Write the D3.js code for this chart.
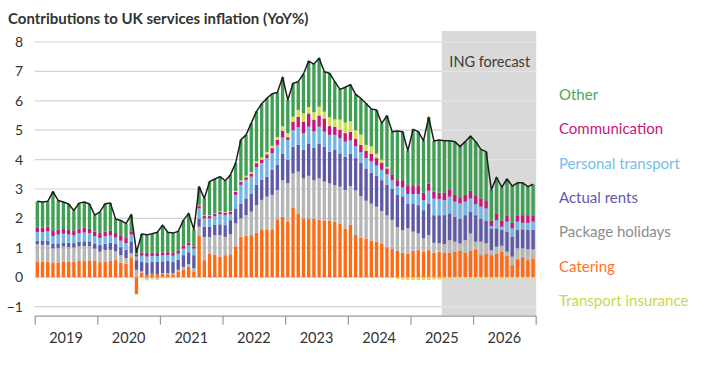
<!DOCTYPE html>
<html>
<head>
<meta charset="utf-8">
<script src="https://cdn.jsdelivr.net/npm/d3@7"></script>
<style>
  body { margin: 0; background: #fff; }
  svg text { font-family: Lato, "Open Sans", sans-serif; }
</style>
</head>
<body>
<svg id="chart" width="707" height="365"></svg>
<script>
// Monthly contributions (pp), Jan 2019 - Dec 2026, one row per year
const years = [2019, 2020, 2021, 2022, 2023, 2024, 2025, 2026];
const forecastStart = "2025-7";

const catering = [
  .52, .52, .52, .50, .50, .52, .52, .53, .55, .56, .57, .55,
  .51, .52, .55, .58, .50, .45, .65, -.57, .16, .08, .12, .10,
  .12, .10, .10, .20, .25, .35, .20, 1.40, .58, .80, .77, .69,
  .75, .78, 1.05, 1.38, 1.41, 1.43, 1.51, 1.63, 1.63, 1.63, 1.97, 2.06,
  1.90, 2.36, 2.17, 2.00, 2.00, 1.98, 1.95, 1.92, 1.92, 1.89, 1.83, 1.66,
  1.78, 1.44, 1.34, 1.32, 1.24, 1.21, 1.15, 1.02, .96, .90, .83, .81,
  .90, .92, .87, .92, .83, .87, .83, .83, .87, .90, .83, .90,
  .95, .75, .79, .75, .79, .87, .72, .41, .61, .68, .58, .64
];
const packageHolidays = [
  .60, .58, .58, .48, .50, .52, .50, .48, .50, .50, .48, .42,
  .36, .40, .38, .30, .25, .20, .17, .25, .04, -.08, -.05, -.06,
  .02, .03, .03, .05, .10, .10, .10, .32, .79, .57, .66, .74,
  .62, .68, .78, .62, .70, .80, .94, 1.00, 1.11, 1.17, 1.00, 1.24,
  1.30, 1.17, 1.42, 1.36, 1.45, 1.32, 1.41, 1.33, 1.27, 1.24, 1.25, 1.31,
  1.32, 1.51, 1.41, 1.28, 1.26, 1.19, 1.10, 1.08, .99, .80, .77, .85,
  .65, .57, .45, .51, .34, .28, .30, .43, .34, .25, .43, .59,
  .26, .46, .36, .17, .25, .20, .15, .29, .37, .30, .37, .31
];
const actualRents = [
  .12, .13, .14, .15, .15, .14, .15, .15, .16, .16, .17, .18,
  .23, .22, .24, .25, .27, .28, .40, .33, .33, .42, .40, .42,
  .40, .42, .40, .35, .40, .40, .45, .28, .35, .35, .36, .37,
  .40, .48, .51, .51, .57, .62, .69, .68, .68, .85, .85, .90,
  .79, .91, .91, .97, 1.10, 1.10, 1.19, 1.19, 1.08, 1.20, 1.13, 1.13,
  1.10, 1.10, 1.15, 1.10, 1.05, 1.05, 1.05, 1.05, 1.05, 1.10, 1.15, .83,
  .94, .96, .96, 1.08, .94, .96, .98, .91, .85, .85, .85, .74,
  .90, .79, .77, .74, .62, .54, .68, .68, .63, .65, .66, .66
];
const personalTransport = [
  .30, .30, .32, .27, .30, .30, .28, .26, .28, .30, .28, .25,
  .23, .25, .25, .22, .22, .23, .23, .12, .20, .20, .20, .20,
  .20, .20, .20, .20, .22, .23, .22, .34, .28, .28, .28, .34,
  .34, .20, .46, .63, .63, .57, .60, .57, .63, .57, .68, .55,
  .68, .56, .60, .56, .57, .56, .57, .51, .57, .51, .52, .51,
  .45, .40, .35, .35, .40, .35, .35, .35, .30, .30, .30, .34,
  .34, .38, .34, .43, .56, .54, .51, .57, .51, .51, .46, .45,
  .38, .40, .42, .08, .28, .11, .34, .28, .28, .22, .24, .28
];
const communication = [
  .16, .16, .16, .17, .17, .16, .16, .15, .16, .16, .15, .15,
  .17, .16, .16, .15, .16, .17, .11, .06, .11, .12, .12, .10,
  .10, .10, .09, .10, .10, .10, .07, .08, .08, .08, .08, .08,
  .08, .08, .10, .11, .09, .10, .14, .12, .13, .17, .17, .23,
  .09, .29, .36, .40, .45, .40, .38, .45, .30, .28, .28, .29,
  .30, .25, .25, .25, .25, .25, .25, .20, .20, .20, .25, .27,
  .27, .27, .25, .25, .24, .22, .25, .25, .23, .21, .23, .26,
  .27, .28, .25, .18, .21, .20, .20, .19, .20, .26, .23, .21
];
const transportInsurance = [
  -.02, -.02, -.02, -.02, -.02, -.02, -.02, -.02, -.02, -.02, -.02, -.02,
  -.02, -.02, -.02, -.02, -.02, -.02, -.02, -.02, -.03, -.03, -.03, -.04,
  -.04, -.04, -.04, -.03, -.03, -.03, -.02, .02, .02, .02, .02, .02,
  .02, .02, .03, .04, .05, .05, .06, .07, .08, .08, .10, .15,
  .14, .17, .23, .28, .22, .25, .30, .23, .30, .25, .35, .36,
  .35, .30, .35, .20, .25, .15, .10, .05, -.03, -.06, -.08, -.10,
  -.10, -.10, -.10, -.10, -.08, -.08, -.06, -.04, -.04, -.04, -.04, -.04,
  -.04, -.04, -.04, -.04, -.04, -.04, -.04, -.04, -.04, -.04, -.04, -.04
];
const other = [
  .88, .87, .86, 1.34, .99, .92, .88, .70, .87, .88, .84, .56,
  .72, .95, .94, .48, .53, .49, .57, .20, .63, .62, .64, .71,
  .93, .68, .68, .66, .87, .99, .58, .64, .58, 1.15, 1.17, 1.18,
  1.07, 1.24, .95, 1.38, 1.39, 1.67, 1.70, 1.83, 1.83, 1.77, 1.51, 1.67,
  1.13, 1.14, .96, 1.34, 1.56, 1.64, 1.65, 1.36, 1.50, 1.28, 1.03, 1.20,
  1.25, 1.22, 1.23, 1.41, 1.27, 1.49, 1.23, 1.74, 1.45, 1.67, 1.65, 1.20,
  1.93, 1.85, 1.77, 2.25, 1.72, 1.80, 1.77, 1.65, 1.81, 1.72, 1.81, 1.86,
  1.85, 1.67, 1.68, 1.05, 1.25, 1.14, 1.25, 1.25, 1.12, 1.10, 1.00, 1.06
];
// Total services inflation (line)
const total = [
  2.58, 2.56, 2.58, 2.91, 2.61, 2.56, 2.49, 2.27, 2.52, 2.56, 2.49, 2.11,
  2.22, 2.50, 2.52, 1.98, 1.93, 1.82, 2.13, 0.85, 1.47, 1.44, 1.48, 1.53,
  1.77, 1.53, 1.50, 1.56, 1.94, 2.17, 1.62, 3.08, 2.68, 3.25, 3.34, 3.42,
  3.28, 3.48, 3.88, 4.67, 4.84, 5.24, 5.64, 5.90, 6.09, 6.24, 6.28, 6.80,
  6.03, 6.60, 6.65, 6.91, 7.35, 7.25, 7.45, 6.99, 6.94, 6.65, 6.39, 6.46,
  6.55, 6.22, 6.08, 5.91, 5.72, 5.69, 5.23, 5.49, 4.95, 4.97, 4.95, 4.30,
  5.03, 4.95, 4.64, 5.44, 4.63, 4.67, 4.64, 4.64, 4.61, 4.44, 4.61, 4.80,
  4.61, 4.35, 4.27, 2.97, 3.40, 3.06, 3.34, 3.10, 3.21, 3.21, 3.08, 3.16
];

const yTicks = [-1, 0, 1, 2, 3, 4, 5, 6, 7, 8];

// stacking order from the bottom up (positives); legend lists them top down
const series = [
  { key: "catering", label: "Catering", values: catering, color: "#ff6a13" },
  { key: "holidays", label: "Package holidays", values: packageHolidays, color: "#b6b6b6" },
  { key: "rents", label: "Actual rents", values: actualRents, color: "#5f5aa8" },
  { key: "transport", label: "Personal transport", values: personalTransport, color: "#72b6e6" },
  { key: "communication", label: "Communication", values: communication, color: "#c4187c" },
  { key: "insurance", label: "Transport insurance", values: transportInsurance, color: "#d2e04c" },
  { key: "other", label: "Other", values: other, color: "#3f9f52" }
];
const legendOrder = ["other", "communication", "transport", "rents", "holidays", "catering", "insurance"];
const legendColors = {
  other: "#4ea65e", communication: "#c4187c", transport: "#78bce9", rents: "#5f5aa8",
  holidays: "#8c8c8c", catering: "#ff7328", insurance: "#c9d84e"
};

const months = years.flatMap(yr => d3.range(1, 13).map(m => `${yr}-${m}`));
const rows = months.map((m, i) => {
  const r = { month: m };
  series.forEach(s => { r[s.key] = s.values[i]; });
  return r;
});

const svg = d3.select("#chart");
const plotLeft = 34.7, plotRight = 535.7, axisY = 315.7;

const x = d3.scaleBand()
  .domain(months)
  .range([plotLeft, plotRight])
  .paddingInner(0.36)
  .paddingOuter(0.18);

const y = d3.scaleLinear()
  .domain([-1, 8])
  .range([306.6, 42]);

const xYear = d3.scaleLinear()
  .domain([years[0], years[years.length - 1] + 1])
  .range([plotLeft, plotRight]);

// gridlines
svg.append("g")
  .selectAll("line")
  .data(yTicks)
  .enter()
  .append("line")
  .attr("x1", plotLeft)
  .attr("x2", plotRight + 1)
  .attr("y1", d => y(d))
  .attr("y2", d => y(d))
  .attr("stroke", "#d4d4d4")
  .attr("stroke-width", 1.2);

// forecast shading, with lighter gridlines showing through
const fx = x(forecastStart) - x.step() * x.paddingInner() / 2;
svg.append("rect")
  .attr("x", fx)
  .attr("y", 31)
  .attr("width", plotRight + 0.5 - fx)
  .attr("height", axisY - 31)
  .attr("fill", "#d9d9d9");

svg.append("g")
  .selectAll("line")
  .data(yTicks)
  .enter()
  .append("line")
  .attr("x1", fx)
  .attr("x2", plotRight + 0.5)
  .attr("y1", d => y(d))
  .attr("y2", d => y(d))
  .attr("stroke", "#e3e3e3")
  .attr("stroke-width", 1.2);

svg.append("text")
  .attr("x", (fx + plotRight) / 2 + 1)
  .attr("y", 67)
  .attr("text-anchor", "middle")
  .style("font-size", "14.5px")
  .attr("fill", "#3c3c3c")
  .text("ING forecast");

// y labels
const yAxis = svg.append("g")
  .attr("transform", "translate(23,0)")
  .call(d3.axisLeft(y).tickValues(yTicks).tickSize(0).tickFormat(d3.format("d")));
yAxis.select(".domain").remove();
yAxis.selectAll("text")
  .attr("x", 0)
  .style("font-size", "14px")
  .style("font-family", "Lato, sans-serif")
  .attr("fill", "#333");

// stacked bars
const stack = d3.stack()
  .keys(series.map(s => s.key))
  .offset(d3.stackOffsetDiverging);
const stacked = stack(rows);

svg.append("g")
  .selectAll("g")
  .data(stacked)
  .enter()
  .append("g")
  .attr("fill", (d, i) => series[i].color)
  .selectAll("rect")
  .data(d => d)
  .enter()
  .append("rect")
  .attr("x", d => x(d.data.month))
  .attr("width", x.bandwidth())
  .attr("y", d => y(Math.max(d[0], d[1])))
  .attr("height", d => Math.abs(y(d[0]) - y(d[1])));

// total line
const line = d3.line()
  .x((d, i) => x(months[i]) + x.bandwidth() / 2)
  .y(d => y(d));
svg.append("path")
  .datum(total)
  .attr("d", line)
  .attr("fill", "none")
  .attr("stroke", "#1e1e1e")
  .attr("stroke-width", 1.5)
  .attr("stroke-linejoin", "round");

// x axis
const xAxis = svg.append("g")
  .attr("transform", `translate(0,${axisY})`)
  .call(d3.axisBottom(xYear)
    .tickValues(d3.range(years[0], years[years.length - 1] + 2))
    .tickSize(9)
    .tickSizeOuter(0)
    .tickFormat(""));
xAxis.selectAll("line, path").attr("stroke", "#9a9a9a").attr("stroke-width", 1.2);

svg.append("g")
  .selectAll("text")
  .data(years)
  .enter()
  .append("text")
  .attr("x", d => xYear(d + 0.5))
  .attr("y", 343)
  .attr("text-anchor", "middle")
  .style("font-size", "14.5px")
  .attr("fill", "#333")
  .text(d => d);

// title
svg.append("text")
  .attr("x", 8)
  .attr("y", 24)
  .style("font-size", "15px")
  .style("font-weight", "700")
  .attr("fill", "#333")
  .text("Contributions to UK services inflation (YoY%)");

// legend
const legend = svg.append("g");
legendOrder.forEach((k, i) => {
  const s = series.find(d => d.key === k);
  legend.append("text")
    .attr("x", 559)
    .attr("y", 100 + i * 34.3)
    .style("font-size", "15px")
    .attr("fill", legendColors[k])
    .text(s.label);
});
</script>
</body>
</html>
